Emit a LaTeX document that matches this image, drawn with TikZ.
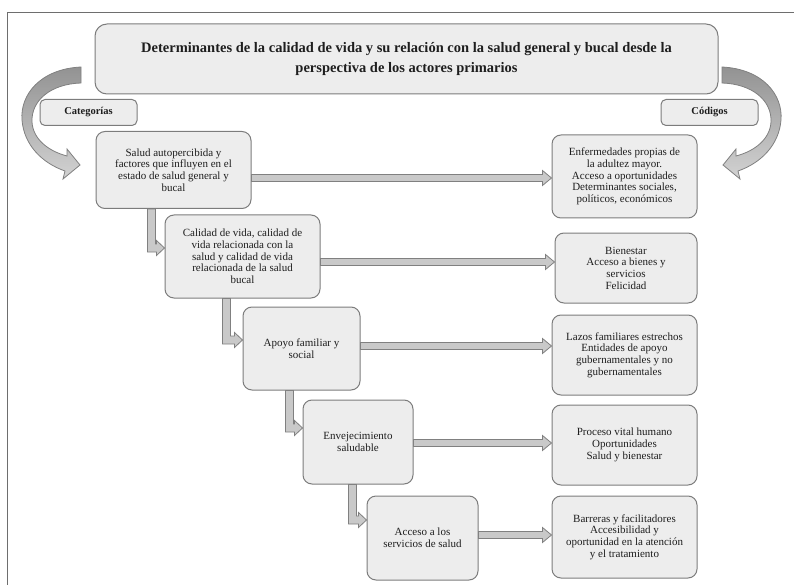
\documentclass[tikz,border=0pt]{standalone}
\usepackage{fontspec}
\setmainfont{Liberation Serif}
\usetikzlibrary{calc}
\definecolor{boxfill}{HTML}{EDEDED}
\definecolor{boxline}{HTML}{7C7C7C}
\definecolor{connfill}{HTML}{C9C9C9}
\definecolor{connline}{HTML}{808080}
\definecolor{framecol}{HTML}{6E6E6E}
\definecolor{txt}{HTML}{1E1E1E}
\pgfdeclarelayer{bg}
\pgfsetlayers{bg,main}
\newcommand\harrow[3]{%
  \draw[conn] let \p1=(#1.east), \p2=(#2.west), \p3=(0,#3) in
    (\x1,\y3+3.5pt) -- (\x2-9pt,\y3+3.5pt) -- (\x2-9pt,\y3+7.5pt) -- (\x2,\y3)
    -- (\x2-9pt,\y3-7.5pt) -- (\x2-9pt,\y3-3.5pt) -- (\x1,\y3-3.5pt) -- cycle;}
\newcommand\elbow[4]{%
  \draw[conn] let \p1=($(#1.south west)+(#3,0)$), \p2=(#1.south), \p3=(#2.west), \p4=(0,#4) in
    (\x1-4pt,\y2) -- (\x1-4pt,\y4-4pt) -- (\x3-8pt,\y4-4pt) -- (\x3-8pt,\y4-7.5pt) -- (\x3,\y4)
    -- (\x3-8pt,\y4+7.5pt) -- (\x3-8pt,\y4+4pt) -- (\x1+4pt,\y4+4pt) -- (\x1+4pt,\y2) -- cycle;}
\begin{document}
\begin{tikzpicture}[x=1pt,y=-1pt,
  box/.style={draw=boxline, fill=boxfill, rounded corners=9pt, line width=1pt,
    align=center, text=txt, inner sep=0pt, font=\fontsize{11}{11.7}\selectfont},
  lbl/.style={box, rounded corners=5pt, font=\bfseries\fontsize{10.5}{12}\selectfont},
  conn/.style={draw=connline, fill=connfill, line width=0.8pt, line join=miter},
  curv/.style={draw=connline, line width=0.8pt, top color=gray!85, middle color=gray!55, bottom color=gray!35}]
\useasboundingbox (0,0) rectangle (794,585);
\draw[framecol, line width=1pt] (7,585) -- (7,13) -- (794,13);

% curved arrows
\shade[curv] (81,67) .. controls (40,69) and (20,95) .. (22,120)
  .. controls (24,145) and (42,163) .. (65,171) -- (63,179) -- (80,165) -- (67,149) -- (67,156)
  .. controls (48,151) and (33,139) .. (32,122) .. controls (31,101) and (50,84) .. (81,83) -- cycle;
\begin{scope}[xscale=-1, xshift=-803pt]
\shade[curv] (81,67) .. controls (40,69) and (20,95) .. (22,120)
  .. controls (24,145) and (42,163) .. (65,171) -- (63,179) -- (80,165) -- (67,149) -- (67,156)
  .. controls (48,151) and (33,139) .. (32,122) .. controls (31,101) and (50,84) .. (81,83) -- cycle;
\end{scope}

% title and labels
\node[box, rounded corners=12pt, minimum width=623pt, minimum height=70pt,
  font=\bfseries\fontsize{14.5}{20}\selectfont] (title) at (406.5,59)
  {Determinantes de la calidad de vida y su relación con la salud general y bucal desde la\\
   perspectiva de los actores primarios};
\node[lbl, minimum width=97pt, minimum height=26pt] (cat) at (88.5,112.5) {Categorías};
\node[lbl, minimum width=97pt, minimum height=26pt] (cod) at (709.5,112.5) {Códigos};

% category boxes
\node[box, minimum width=155pt, minimum height=77pt] (s1) at (173.5,170)
  {Salud autopercibida y\\factores que influyen en el\\estado de salud general y\\bucal};
\node[box, minimum width=155pt, minimum height=83pt] (s2) at (242.5,256.5)
  {Calidad de vida, calidad de\\vida relacionada con la\\salud y calidad de vida\\relacionada de la salud\\bucal};
\node[box, minimum width=117pt, minimum height=83pt] (s3) at (301.5,348.5)
  {Apoyo familiar y\\social};
\node[box, minimum width=110pt, minimum height=84pt] (s4) at (358,442)
  {Envejecimiento\\saludable};
\node[box, minimum width=111pt, minimum height=84pt] (s5) at (422.5,538)
  {Acceso a los\\servicios de salud};

% code boxes
\node[box, minimum width=145pt, minimum height=83pt] (c1) at (624.5,176.5)
  {Enfermedades propias de\\la adultez mayor.\\Acceso a oportunidades\\Determinantes sociales,\\políticos, económicos};
\node[box, minimum width=142pt, minimum height=70pt] (c2) at (626,268)
  {Bienestar\\Acceso a bienes y\\servicios\\Felicidad};
\node[box, minimum width=145pt, minimum height=80pt] (c3) at (624.5,355)
  {Lazos familiares estrechos\\Entidades de apoyo\\gubernamentales y no\\gubernamentales};
\node[box, minimum width=145pt, minimum height=80pt] (c4) at (624.5,445)
  {Proceso vital humano\\Oportunidades\\Salud y bienestar};
\node[box, minimum width=145pt, minimum height=82pt] (c5) at (624.5,537)
  {Barreras y facilitadores\\Accesibilidad y\\oportunidad en la atención\\y el tratamiento};

\begin{pgfonlayer}{bg}
\harrow{s1}{c1}{178}
\harrow{s2}{c2}{262}
\harrow{s3}{c3}{346}
\harrow{s4}{c4}{443}
\harrow{s5}{c5}{535}
\elbow{s1}{s2}{56}{248}
\elbow{s2}{s3}{62}{340}
\elbow{s3}{s4}{47}{428}
\elbow{s4}{s5}{50}{520}
\end{pgfonlayer}
\end{tikzpicture}
\end{document}
